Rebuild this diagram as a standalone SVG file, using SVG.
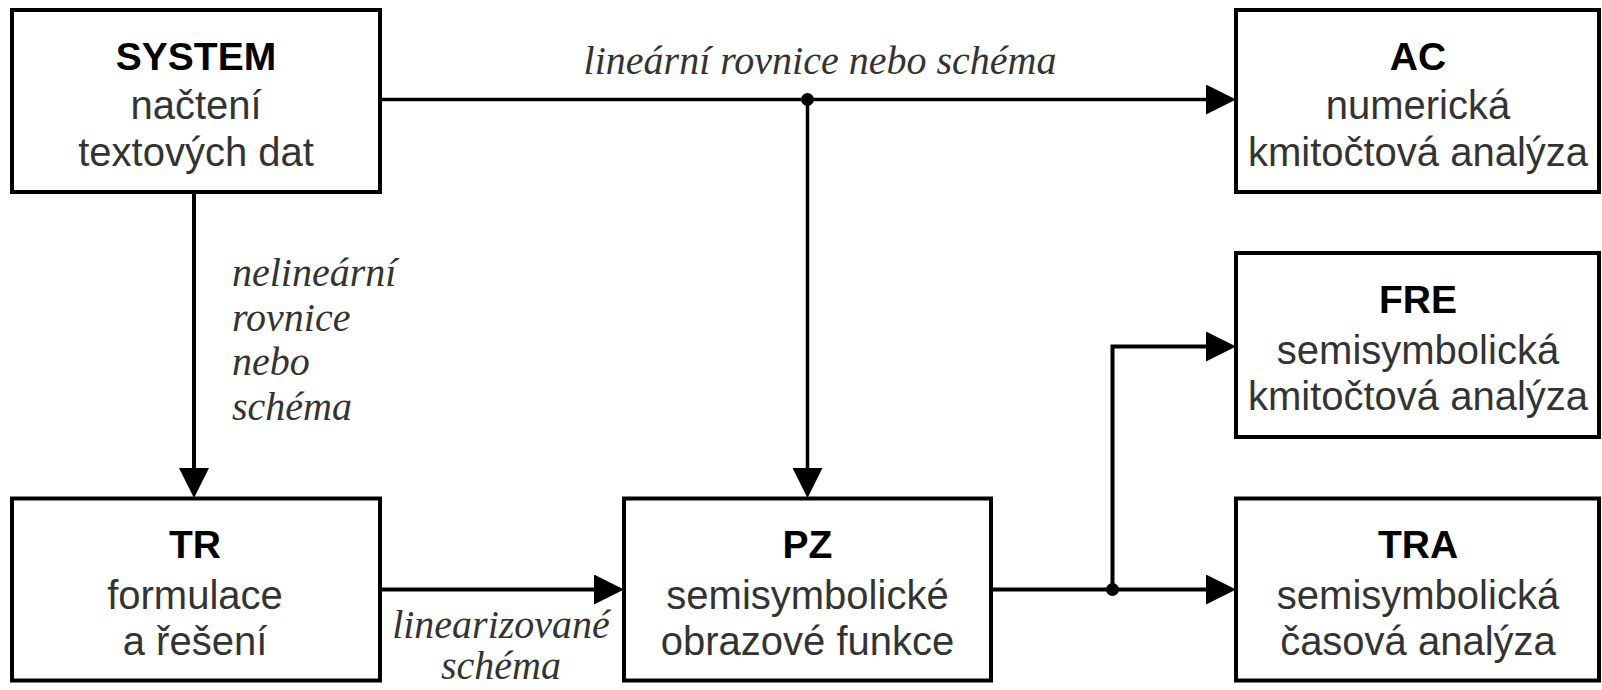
<svg xmlns="http://www.w3.org/2000/svg" width="1602" height="690" viewBox="0 0 1602 690">
<defs>
<style>
.box{fill:#fff;stroke:#000;stroke-width:4}
.t{font-family:"Liberation Sans",Arial,sans-serif;font-weight:bold;font-size:39px;fill:#000;text-anchor:middle}
.s{font-family:"Liberation Sans",Arial,sans-serif;font-size:40px;fill:#333;text-anchor:middle}
.lbl{font-family:"Liberation Serif","Times New Roman",serif;font-style:italic;font-size:40px;fill:#333}
.ln{fill:none;stroke:#000;stroke-width:4}
</style>
<marker id="arr" viewBox="0 0 30 30" markerWidth="30" markerHeight="30" refX="1" refY="15" orient="auto" markerUnits="userSpaceOnUse">
<path d="M0,0 L30,15 L0,30 z" fill="#000"/>
</marker>
</defs>
<rect width="1602" height="690" fill="#fff"/>
<g id="connectors">
<path class="ln" style="stroke-width:3.5" d="M380,99.5 H1207" marker-end="url(#arr)"/>
<path class="ln" style="stroke-width:3.5" d="M807.5,99.5 V469" marker-end="url(#arr)"/>
<path class="ln" d="M194,192 V469" marker-end="url(#arr)"/>
<path class="ln" d="M380,589.5 H595" marker-end="url(#arr)"/>
<path class="ln" d="M991,589.5 H1207" marker-end="url(#arr)"/>
<path class="ln" d="M1112.5,589.5 V346.5 H1207" marker-end="url(#arr)"/>
<circle cx="807.5" cy="99.5" r="6.5" fill="#000"/>
<circle cx="1112.5" cy="589.5" r="6.5" fill="#000"/>
<text class="lbl" x="820" y="74" text-anchor="middle">lineární rovnice nebo schéma</text>
<text class="lbl" x="232" y="286">nelineární</text>
<text class="lbl" x="232" y="330.5">rovnice</text>
<text class="lbl" x="232" y="375">nebo</text>
<text class="lbl" x="232" y="419.5">schéma</text>
<text class="lbl" x="501" y="638" text-anchor="middle">linearizované</text>
<text class="lbl" x="501" y="679" text-anchor="middle">schéma</text>
</g>
<g id="SYSTEM">
<rect class="box" x="12" y="10" width="368" height="182"/>
<text class="t" x="196" y="70">SYSTEM</text>
<text class="s" x="196" y="119">načtení</text>
<text class="s" x="196" y="166">textových dat</text>
</g>
<g id="AC">
<rect class="box" x="1236" y="10" width="363" height="182"/>
<text class="t" x="1418" y="70">AC</text>
<text class="s" x="1418" y="119">numerická</text>
<text class="s" x="1418" y="166">kmitočtová analýza</text>
</g>
<g id="FRE">
<rect class="box" x="1236" y="253" width="363" height="184"/>
<text class="t" x="1418" y="313">FRE</text>
<text class="s" x="1418" y="364">semisymbolická</text>
<text class="s" x="1418" y="410">kmitočtová analýza</text>
</g>
<g id="TR">
<rect class="box" x="12" y="498.5" width="368" height="182"/>
<text class="t" x="195" y="558">TR</text>
<text class="s" x="195" y="609">formulace</text>
<text class="s" x="195" y="655">a řešení</text>
</g>
<g id="PZ">
<rect class="box" x="624" y="498.5" width="367" height="182"/>
<text class="t" x="807.5" y="558">PZ</text>
<text class="s" x="807.5" y="609">semisymbolické</text>
<text class="s" x="807.5" y="655">obrazové funkce</text>
</g>
<g id="TRA">
<rect class="box" x="1236" y="498.5" width="363" height="182"/>
<text class="t" x="1418" y="558">TRA</text>
<text class="s" x="1418" y="609">semisymbolická</text>
<text class="s" x="1418" y="655">časová analýza</text>
</g>
</svg>
